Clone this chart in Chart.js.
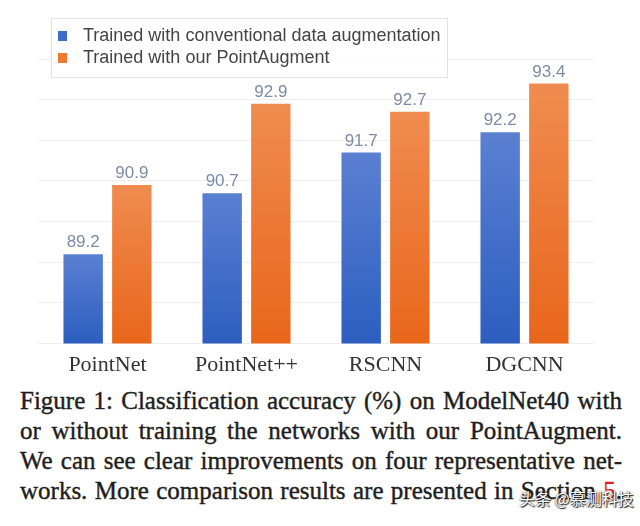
<!DOCTYPE html>
<html>
<head>
<meta charset="utf-8">
<script src="https://cdn.jsdelivr.net/npm/chart.js@4.4.1/dist/chart.umd.min.js"></script>
<style>
    html, body { margin: 0; padding: 0; background: #fff; }
    #wrap { position: relative; width: 640px; height: 526px; overflow: hidden; }
    #chartBox { position: absolute; left: 0; top: 0; width: 640px; height: 384px; }
    #caption {
        position: absolute; left: 20px; top: 386px; width: 602px;
        font-family: "Liberation Serif", "DejaVu Serif", serif;
        font-size: 25px; line-height: 30px; color: #1e1e1e;
        -webkit-text-stroke: 0.4px #1e1e1e;
    }
    #caption div { text-align: justify; text-align-last: justify; white-space: nowrap; }
    #caption .red { color: #e02020; -webkit-text-stroke: 0.4px #e02020; }
    #mark {
        position: absolute; left: 519px; top: 486px;
        font-family: "Noto Sans CJK SC", sans-serif; font-size: 16px;
        color: #fff; text-shadow: 0 0 2px #000, 1px 1px 1px #222;
    }
</style>
</head>
<body>
<div id="wrap">
    <div id="chartBox"><canvas id="graph"></canvas></div>
    <div id="caption">
        <div>Figure 1: Classification accuracy (%) on ModelNet40 with</div>
        <div>or without training the networks with our PointAugment.</div>
        <div>We can see clear improvements on four representative net-</div>
        <div>works. More comparison results are presented in Section <span class="red">5</span>.</div>
    </div>
    <div id="mark">头条 @慕测科技</div>
</div>
<script>
    // accuracy values
    let networks = ['PointNet', 'PointNet++', 'RSCNN', 'DGCNN'];
    let conventional = [89.2, 90.7, 91.7, 92.2];
    let pointAugment = [90.9, 92.9, 92.7, 93.4];
    let seriesNames = ['Trained with conventional data augmentation', 'Trained with our PointAugment'];

    let yMin = 87, yMax = 94;

    // vertical gradient per bar, lighter at the top
    function barGradient(top, bottom) {
        return function (context) {
            let chart = context.chart;
            let yScale = chart.scales.y;
            if (!chart.chartArea || !yScale) return bottom;
            let yTop = yScale.getPixelForValue(context.raw);
            let yBot = yScale.getPixelForValue(yMin);
            let g = chart.ctx.createLinearGradient(0, yTop, 0, yBot);
            g.addColorStop(0, top);
            g.addColorStop(1, bottom);
            return g;
        };
    }

    let valueLabels = {
        id: 'valueLabels',
        afterDatasetsDraw(chart) {
            let ctx = chart.ctx;
            ctx.save();
            ctx.font = '17px "Liberation Sans", Arial, sans-serif';
            ctx.fillStyle = '#7d8ba5';
            ctx.textAlign = 'center';
            ctx.textBaseline = 'bottom';
            chart.data.datasets.forEach(function (ds, i) {
                chart.getDatasetMeta(i).data.forEach(function (bar, j) {
                    ctx.fillText(ds.data[j].toFixed(1), bar.x, bar.y - 3);
                });
            });
            ctx.restore();
        }
    };

    // boxed legend drawn over the plot, top left
    let boxLegend = {
        id: 'boxLegend',
        afterDraw(chart) {
            let ctx = chart.ctx;
            ctx.save();
            ctx.fillStyle = 'rgba(255,255,255,0.85)';
            ctx.fillRect(51, 18, 396, 59);
            ctx.strokeStyle = '#e2e2e2';
            ctx.lineWidth = 1;
            ctx.strokeRect(51.5, 18.5, 396, 59);
            ctx.font = '18px "Liberation Sans", Arial, sans-serif';
            ctx.textBaseline = 'middle';
            let swatches = ['#3e6cc9', '#ee7a30'];
            seriesNames.forEach(function (name, i) {
                let cy = 36 + i * 22;
                ctx.fillStyle = swatches[i];
                ctx.fillRect(58, cy - 5, 9, 10);
                ctx.fillStyle = '#444';
                ctx.fillText(name, 83, cy);
            });
            ctx.restore();
        }
    };

    let graphCtx = document.getElementById('graph').getContext('2d');
    let chart = new Chart(graphCtx, {
        type: 'bar',
        data: {
            labels: networks,
            datasets: [
                {
                    label: seriesNames[0],
                    data: conventional,
                    backgroundColor: barGradient('#5b80d2', '#2c5ec0'),
                    categoryPercentage: 0.7,
                    barPercentage: 0.81
                },
                {
                    label: seriesNames[1],
                    data: pointAugment,
                    backgroundColor: barGradient('#f08c50', '#e8661a'),
                    categoryPercentage: 0.7,
                    barPercentage: 0.81
                }
            ]
        },
        options: {
            responsive: true,
            maintainAspectRatio: false,
            animation: false,
            layout: { padding: { left: 38, right: 46, top: 59, bottom: 6 } },
            plugins: {
                legend: { display: false },
                tooltip: { enabled: false }
            },
            scales: {
                x: {
                    grid: { display: false },
                    border: { display: false },
                    ticks: {
                        color: '#333',
                        padding: 0,
                        font: { family: '"Liberation Serif", serif', size: 22 }
                    }
                },
                y: {
                    min: yMin,
                    max: yMax,
                    ticks: { display: false, stepSize: 1 },
                    grid: { color: '#efefef', drawTicks: false },
                    border: { display: false }
                }
            }
        },
        plugins: [valueLabels, boxLegend]
    });
</script>
</body>
</html>
